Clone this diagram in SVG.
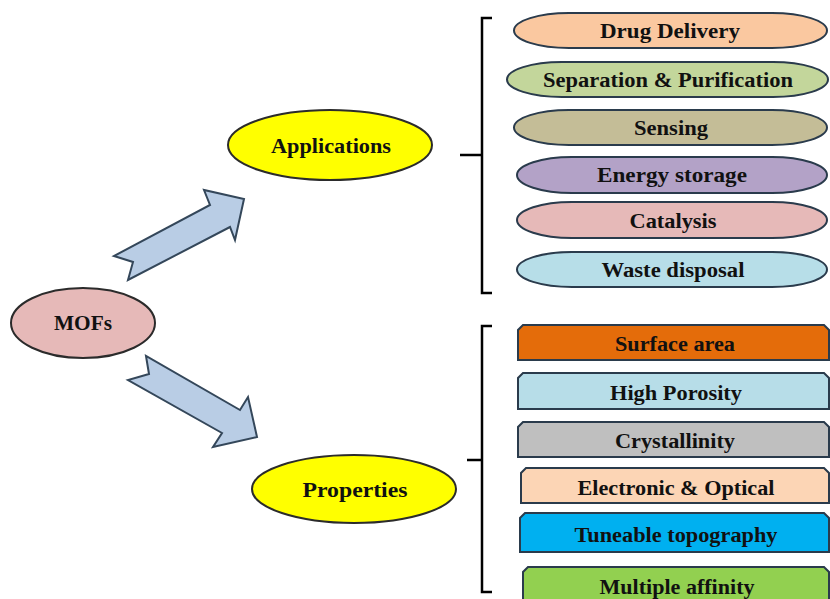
<svg xmlns="http://www.w3.org/2000/svg" width="830" height="599" viewBox="0 0 830 599">
<style>
text{font-family:"Liberation Serif","Times New Roman",serif;font-weight:bold;font-size:20px;fill:#111;text-anchor:middle;dominant-baseline:central}
.pill{stroke:#2a3b4c;stroke-width:2}
.prop{stroke:#2a3b4c;stroke-width:2}
.ell{stroke:#2b2b2b;stroke-width:2}
.arrow{fill:#b9cde5;stroke:#34475a;stroke-width:2;stroke-linejoin:miter}
.br{fill:none;stroke:#000;stroke-width:2.5}
</style>
<rect width="830" height="599" fill="#fff"/>
<g id="connectors">
<polygon class="arrow" points="114,256 133,262 128,280 230,227 235,240 244,199 204,190 210,205"/>
<polygon class="arrow" points="146,356 149,374 128,380 222,433 213,447 257,437 248,397 240,410"/>
<path class="br" d="M492,18 H482 V293 H492 M482,155 H460"/>
<path class="br" d="M492,326 H482 V592 H492 M482,460 H467"/>
</g>
<g id="mofs"><ellipse class="ell" cx="83" cy="323" rx="72" ry="35" fill="#e6b9b8"/><text x="83" y="323" textLength="58" lengthAdjust="spacingAndGlyphs">MOFs</text></g>
<g id="applications"><ellipse class="ell" cx="330" cy="145" rx="102" ry="35" fill="#ffff00"/><text x="331" y="146" textLength="120" lengthAdjust="spacingAndGlyphs">Applications</text></g>
<g id="properties"><ellipse class="ell" cx="354" cy="489" rx="102" ry="34" fill="#ffff00"/><text x="355" y="490" textLength="105" lengthAdjust="spacingAndGlyphs">Properties</text></g>
<g id="drug-delivery"><rect class="pill" x="514" y="13" width="313" height="35" rx="55" ry="17.5" fill="#fac8a0"/><text x="670" y="31" textLength="140" lengthAdjust="spacingAndGlyphs">Drug Delivery</text></g>
<g id="separation"><rect class="pill" x="507" y="62" width="321" height="35" rx="55" ry="17.5" fill="#c3d69b"/><text x="668" y="80" textLength="250" lengthAdjust="spacingAndGlyphs">Separation &amp; Purification</text></g>
<g id="sensing"><rect class="pill" x="514" y="110" width="313" height="35" rx="55" ry="17.5" fill="#c4bd97"/><text x="671" y="128" textLength="74" lengthAdjust="spacingAndGlyphs">Sensing</text></g>
<g id="energy-storage"><rect class="pill" x="517" y="157" width="310" height="36" rx="55" ry="18" fill="#b3a2c7"/><text x="672" y="175" textLength="150" lengthAdjust="spacingAndGlyphs">Energy storage</text></g>
<g id="catalysis"><rect class="pill" x="517" y="202" width="310" height="36" rx="55" ry="18" fill="#e6b9b8"/><text x="673" y="221" textLength="87" lengthAdjust="spacingAndGlyphs">Catalysis</text></g>
<g id="waste-disposal"><rect class="pill" x="517" y="252" width="310" height="35" rx="55" ry="17.5" fill="#b7dee8"/><text x="673" y="270" textLength="143" lengthAdjust="spacingAndGlyphs">Waste disposal</text></g>
<g id="surface-area"><path class="prop" d="M523,325 H824 L829,330 V360 H518 V330 Z" fill="#e46c0a"/><text x="675" y="344" textLength="120" lengthAdjust="spacingAndGlyphs">Surface area</text></g>
<g id="high-porosity"><path class="prop" d="M523,373 H824 L829,378 V409 H518 V378 Z" fill="#b7dde8"/><text x="676" y="393" textLength="132" lengthAdjust="spacingAndGlyphs">High Porosity</text></g>
<g id="crystallinity"><path class="prop" d="M523,422 H824 L829,427 V457 H518 V427 Z" fill="#bfbfbf"/><text x="675" y="441" textLength="120" lengthAdjust="spacingAndGlyphs">Crystallinity</text></g>
<g id="electronic-optical"><path class="prop" d="M526,468 H824 L829,473 V503 H521 V473 Z" fill="#fcd5b5"/><text x="676" y="488" textLength="197" lengthAdjust="spacingAndGlyphs">Electronic &amp; Optical</text></g>
<g id="tuneable-topography"><path class="prop" d="M525,513 H824 L829,518 V552 H520 V518 Z" fill="#00b0f0"/><text x="676" y="535" textLength="203" lengthAdjust="spacingAndGlyphs">Tuneable topography</text></g>
<g id="multiple-affinity"><path class="prop" d="M528,567 H824 L829,572 V602 H523 V572 Z" fill="#92d050"/><text x="677" y="587" textLength="155" lengthAdjust="spacingAndGlyphs">Multiple affinity</text></g>
</svg>
